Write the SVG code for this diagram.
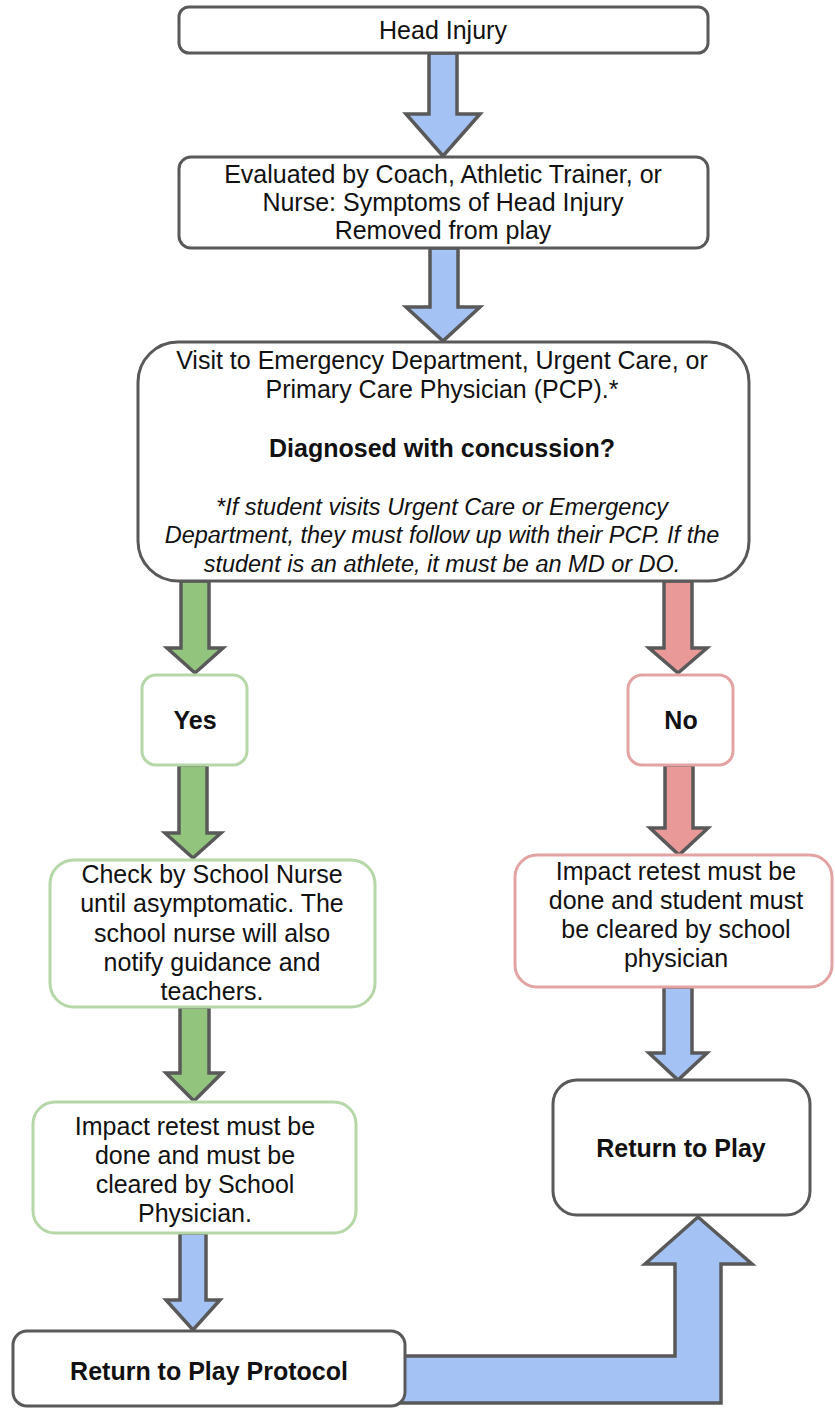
<svg xmlns="http://www.w3.org/2000/svg" width="835" height="1408" viewBox="0 0 835 1408">
<style>
  .box { fill: #ffffff; stroke: #595959; stroke-width: 3; }
  .gbox { fill: #ffffff; stroke: #b6d7a8; stroke-width: 3; }
  .rbox { fill: #ffffff; stroke: #e3a3a3; stroke-width: 3; }
  .arr { stroke: #595959; stroke-width: 3.5; stroke-linejoin: miter; }
  .blue { fill: #a4c2f4; }
  .green { fill: #93c47d; }
  .red { fill: #ea9999; }
  text { font-family: "Liberation Sans", Arial, sans-serif; font-size: 25px; fill: #111111; text-anchor: middle; }
  .b { font-weight: bold; }
  .i { font-style: italic; font-size: 23.5px; }
</style>
<rect width="835" height="1408" fill="#ffffff"/>
<g id="connectors">
  <polygon class="arr blue" points="429,53 457,53 457,114 480,114 443,156 406,114 429,114"/>
  <polygon class="arr blue" points="430,248 458,248 458,307 480,307 443,341 406,307 430,307"/>
  <polygon class="arr green" points="181,581 209,581 209,648 223,648 195,673 167,648 181,648"/>
  <polygon class="arr red" points="664,581 692,581 692,648 707,648 678,673 649,648 664,648"/>
  <polygon class="arr green" points="179,765 207,765 207,833 221,833 193,858 165,833 179,833"/>
  <polygon class="arr red" points="665,765 693,765 693,828 708,828 679,855 650,828 665,828"/>
  <polygon class="arr green" points="180,1007 209,1007 209,1073 222,1073 194,1101 166,1073 180,1073"/>
  <polygon class="arr blue" points="664,987 692,987 692,1053 707,1053 678,1080 649,1053 664,1053"/>
  <polygon class="arr blue" points="180,1233 206,1233 206,1300 220,1300 193,1330 166,1300 180,1300"/>
  <polygon class="arr blue" points="400,1356 675,1356 675,1264 645,1264 698,1217 752,1264 721,1264 721,1403 400,1403"/>
</g>
<g id="head-injury">
  <rect class="box" x="179" y="7" width="529" height="46" rx="10"/>
  <text x="443" y="39">Head Injury</text>
</g>
<g id="evaluated">
  <rect class="box" x="179" y="157" width="529" height="91" rx="12"/>
  <text x="443" y="183">Evaluated by Coach, Athletic Trainer, or</text>
  <text x="443" y="211">Nurse: Symptoms of Head Injury</text>
  <text x="443" y="239">Removed from play</text>
</g>
<g id="visit">
  <rect class="box" x="138" y="342" width="611" height="239" rx="40"/>
  <text x="442" y="369">Visit to Emergency Department, Urgent Care, or</text>
  <text x="442" y="398">Primary Care Physician (PCP).*</text>
  <text class="b" x="442" y="457">Diagnosed with concussion?</text>
  <text class="i" x="442" y="515">*If student visits Urgent Care or Emergency</text>
  <text class="i" x="442" y="543">Department, they must follow up with their PCP. If the</text>
  <text class="i" x="442" y="572">student is an athlete, it must be an MD or DO.</text>
</g>
<g id="yes">
  <rect class="gbox" x="142" y="675" width="105" height="90" rx="14"/>
  <text class="b" x="195" y="729">Yes</text>
</g>
<g id="no">
  <rect class="rbox" x="628" y="675" width="105" height="90" rx="14"/>
  <text class="b" x="681" y="729">No</text>
</g>
<g id="check-nurse">
  <rect class="gbox" x="50" y="860" width="325" height="147" rx="24"/>
  <text x="212" y="883">Check by School Nurse</text>
  <text x="212" y="912">until asymptomatic. The</text>
  <text x="212" y="942">school nurse will also</text>
  <text x="212" y="971">notify guidance and</text>
  <text x="212" y="1000">teachers.</text>
</g>
<g id="impact-yes">
  <rect class="gbox" x="33" y="1102" width="323" height="131" rx="22"/>
  <text x="195" y="1135">Impact retest must be</text>
  <text x="195" y="1164">done and must be</text>
  <text x="195" y="1193">cleared by School</text>
  <text x="195" y="1222">Physician.</text>
</g>
<g id="impact-no">
  <rect class="rbox" x="515" y="855" width="317" height="132" rx="22"/>
  <text x="676" y="880">Impact retest must be</text>
  <text x="676" y="909">done and student must</text>
  <text x="676" y="938">be cleared by school</text>
  <text x="676" y="967">physician</text>
</g>
<g id="return-to-play">
  <rect class="box" x="553" y="1080" width="257" height="135" rx="24"/>
  <text class="b" x="681" y="1157">Return to Play</text>
</g>
<g id="return-to-play-protocol">
  <rect class="box" x="13" y="1331" width="392" height="75" rx="14"/>
  <text class="b" x="209" y="1380">Return to Play Protocol</text>
</g>
</svg>
